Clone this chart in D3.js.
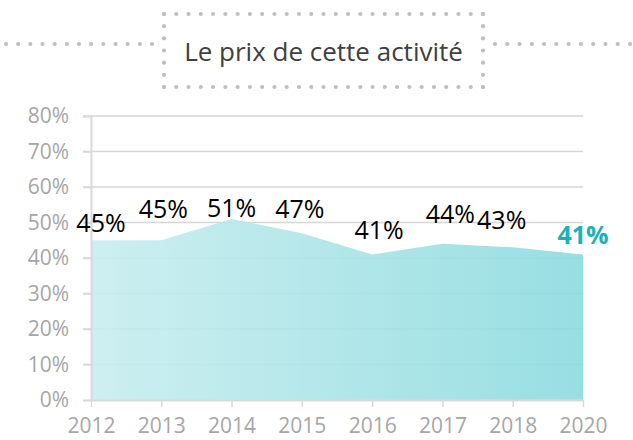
<!DOCTYPE html>
<html>
<head>
<meta charset="utf-8">
<script src="https://cdn.jsdelivr.net/npm/d3@7"></script>
<style>
  html, body { margin: 0; padding: 0; background: #fff; }
  svg { display: block; }
  text { font-family: "Open Sans", "Noto Sans", sans-serif; }
</style>
</head>
<body>
<svg id="chart" width="633" height="440"></svg>
<script>
// Share of respondents citing the price of the activity, by survey year
const years = ["2012", "2013", "2014", "2015", "2016", "2017", "2018", "2020"];
const shares = [45, 45, 51, 47, 41, 44, 43, 41];
const yTicks = [0, 10, 20, 30, 40, 50, 60, 70, 80];
const title = "Le prix de cette activité";

// Hand-placed offsets for the value labels (dx, dy from each point)
const labelNudge = [[10, -8], [2, -22], [0, -2], [-2, -15], [7, -15], [8, -21], [-11, -18], [0, -10]];

const svg = d3.select("#chart");
const W = 633, H = 440;
const m = { left: 91, right: 50, top: 116, bottom: 40 };

const x = d3.scalePoint().domain(years).range([m.left, W - m.right]);
const y = d3.scaleLinear().domain([0, 80]).range([H - m.bottom, m.top]);

// Gradient for the area
const defs = svg.append("defs");
const grad = defs.append("linearGradient").attr("id", "areaGrad")
  .attr("x1", "0%").attr("x2", "100%").attr("y1", "0%").attr("y2", "0%");
grad.append("stop").attr("offset", "0%").attr("stop-color", "#c8edef");
grad.append("stop").attr("offset", "100%").attr("stop-color", "#8cdbdf");

// Horizontal gridlines
svg.append("g")
  .selectAll("line").data(yTicks.filter(d => d > 0)).join("line")
  .attr("x1", m.left - 8).attr("x2", W - m.right)
  .attr("y1", d => y(d)).attr("y2", d => y(d))
  .attr("stroke", "#d6d6d6").attr("stroke-width", 1.5);

// Area
const area = d3.area()
  .x((d, i) => x(years[i]))
  .y0(y(0))
  .y1(d => y(d));
svg.append("path")
  .datum(shares)
  .attr("d", area)
  .attr("fill", "url(#areaGrad)")
  .attr("fill-opacity", 0.9);

// Y axis
const yAxis = d3.axisLeft(y).tickValues(yTicks).tickFormat(d => d + "%").tickSize(8).tickPadding(14);
const gy = svg.append("g").attr("transform", `translate(${m.left},0)`).call(yAxis);
gy.select(".domain").attr("stroke", "#d9d9d9").attr("stroke-width", 2);
gy.selectAll(".tick line").attr("stroke", "#d9d9d9").attr("stroke-width", 1.5);
gy.selectAll(".tick text")
  .attr("fill", "#a6a6a6").style("font-size", "21px")
  .style("font-family", "'Open Sans', sans-serif");

// X axis
const xAxis = d3.axisBottom(x).tickSize(7).tickPadding(11).tickSizeOuter(0);
const gx = svg.append("g").attr("transform", `translate(0,${y(0)})`).call(xAxis);
gx.select(".domain").attr("stroke", "#d9d9d9").attr("stroke-width", 2);
gx.selectAll(".tick line").attr("stroke", "#d9d9d9").attr("stroke-width", 1.5);
gx.selectAll(".tick text")
  .attr("fill", "#a6a6a6").style("font-size", "21px")
  .style("font-family", "'Open Sans', sans-serif");

// Value labels
const last = shares.length - 1;
svg.append("g")
  .selectAll("text").data(shares).join("text")
  .attr("x", (d, i) => x(years[i]) + labelNudge[i][0])
  .attr("y", (d, i) => y(d) + labelNudge[i][1])
  .attr("text-anchor", "middle")
  .style("font-size", "25px")
  .style("font-weight", (d, i) => i === last ? 700 : 400)
  .attr("fill", (d, i) => i === last ? "#1cb1b6" : "#000")
  .text(d => d + "%");

// Title box with dotted frame and dotted rules on either side
const dot = { r: 2.1, gap: 12.3, color: "#bfbfbf" };
const box = { x0: 164, x1: 483, y0: 14, y1: 87 };
const ruleY = 44;

function dotRow(x0, x1, yy) {
  const n = Math.round((x1 - x0) / dot.gap);
  return d3.range(n + 1).map(k => [x0 + (x1 - x0) * k / n, yy]);
}
function dotCol(xx, y0, y1) {
  const n = Math.round((y1 - y0) / dot.gap);
  return d3.range(n + 1).map(k => [xx, y0 + (y1 - y0) * k / n]);
}
const dots = [].concat(
  dotRow(box.x0, box.x1, box.y0),
  dotRow(box.x0, box.x1, box.y1),
  dotCol(box.x0, box.y0, box.y1),
  dotCol(box.x1, box.y0, box.y1),
  dotRow(6, box.x0 - 12, ruleY),
  dotRow(box.x1 + 12, 630, ruleY)
);
svg.append("g")
  .selectAll("circle").data(dots).join("circle")
  .attr("cx", d => d[0]).attr("cy", d => d[1]).attr("r", dot.r)
  .attr("fill", dot.color);

svg.append("text")
  .attr("x", (box.x0 + box.x1) / 2)
  .attr("y", 61)
  .attr("text-anchor", "middle")
  .attr("fill", "#404040")
  .style("font-size", "26px")
  .text(title);
</script>
</body>
</html>
